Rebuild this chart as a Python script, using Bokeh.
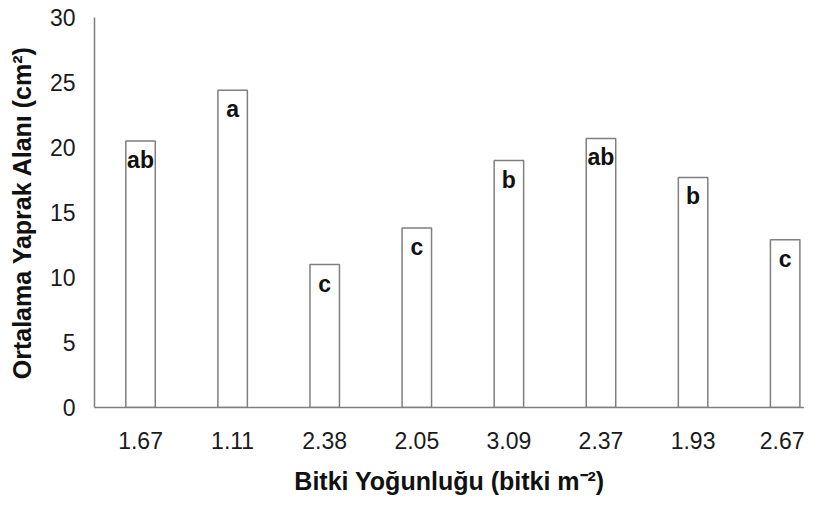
from bokeh.plotting import figure
from bokeh.models import Range1d, FixedTicker, ColumnDataSource
from bokeh.core.properties import value
from bokeh.embed import file_html
from bokeh.resources import INLINE

densities = ["1.67", "1.11", "2.38", "2.05", "3.09", "2.37", "1.93", "2.67"]
leaf_area = [20.5, 24.4, 11.0, 13.8, 19.0, 20.7, 17.7, 12.9]
letters = ["ab", "a", "c", "c", "b", "ab", "b", "c"]
y_ticks = [0, 5, 10, 15, 20, 25, 30]

xs = list(range(len(densities)))
src = ColumnDataSource(dict(x=xs, top=leaf_area, lab=letters))

FONT = "Liberation Sans"
GREY = "#7f7f7f"

p = figure(width=804, height=497, output_backend="svg", toolbar_location=None,
           x_range=Range1d(-0.5, 7.21), y_range=Range1d(0, 30),
           min_border_left=94, min_border_right=0, min_border_top=17, min_border_bottom=88)
p.outline_line_color = None
p.xgrid.grid_line_color = None
p.ygrid.grid_line_color = None
p.background_fill_color = "white"
p.border_fill_color = "white"

p.vbar(x="x", top="top", bottom=0, width=0.32, source=src,
       fill_color="white", line_color=GREY, line_width=1.5)
p.text(x="x", y="top", text="lab", source=src, text_align="center",
       text_baseline="top", y_offset=6, text_font=value(FONT),
       text_font_size="23px", text_font_style="bold", text_color="#111111")

xa = p.xaxis[0]
xa.ticker = FixedTicker(ticks=xs)
xa.major_label_overrides = {i: d for i, d in zip(xs, densities)}
ya = p.yaxis[0]
ya.ticker = FixedTicker(ticks=y_ticks)

for ax in (xa, ya):
    ax.axis_line_color = GREY
    ax.axis_line_width = 1.5
    ax.major_tick_line_color = None
    ax.minor_tick_line_color = None
    ax.major_tick_in = 0
    ax.major_tick_out = 0
    ax.major_label_text_font = FONT
    ax.major_label_text_font_size = "23px"
    ax.major_label_text_color = "#1a1a1a"
    ax.axis_label_text_font = FONT
    ax.axis_label_text_font_size = "25px"
    ax.axis_label_text_font_style = "bold"
    ax.axis_label_text_color = "#111111"

xa.axis_label = "Bitki Yoğunluğu (bitki m⁻²)"
xa.major_label_standoff = 24
xa.axis_label_standoff = 15
ya.axis_label = "Ortalama Yaprak Alanı (cm²)"
ya.major_label_standoff = 19
ya.axis_label_standoff = 11

open("out.html", "w").write(file_html(p, INLINE))
